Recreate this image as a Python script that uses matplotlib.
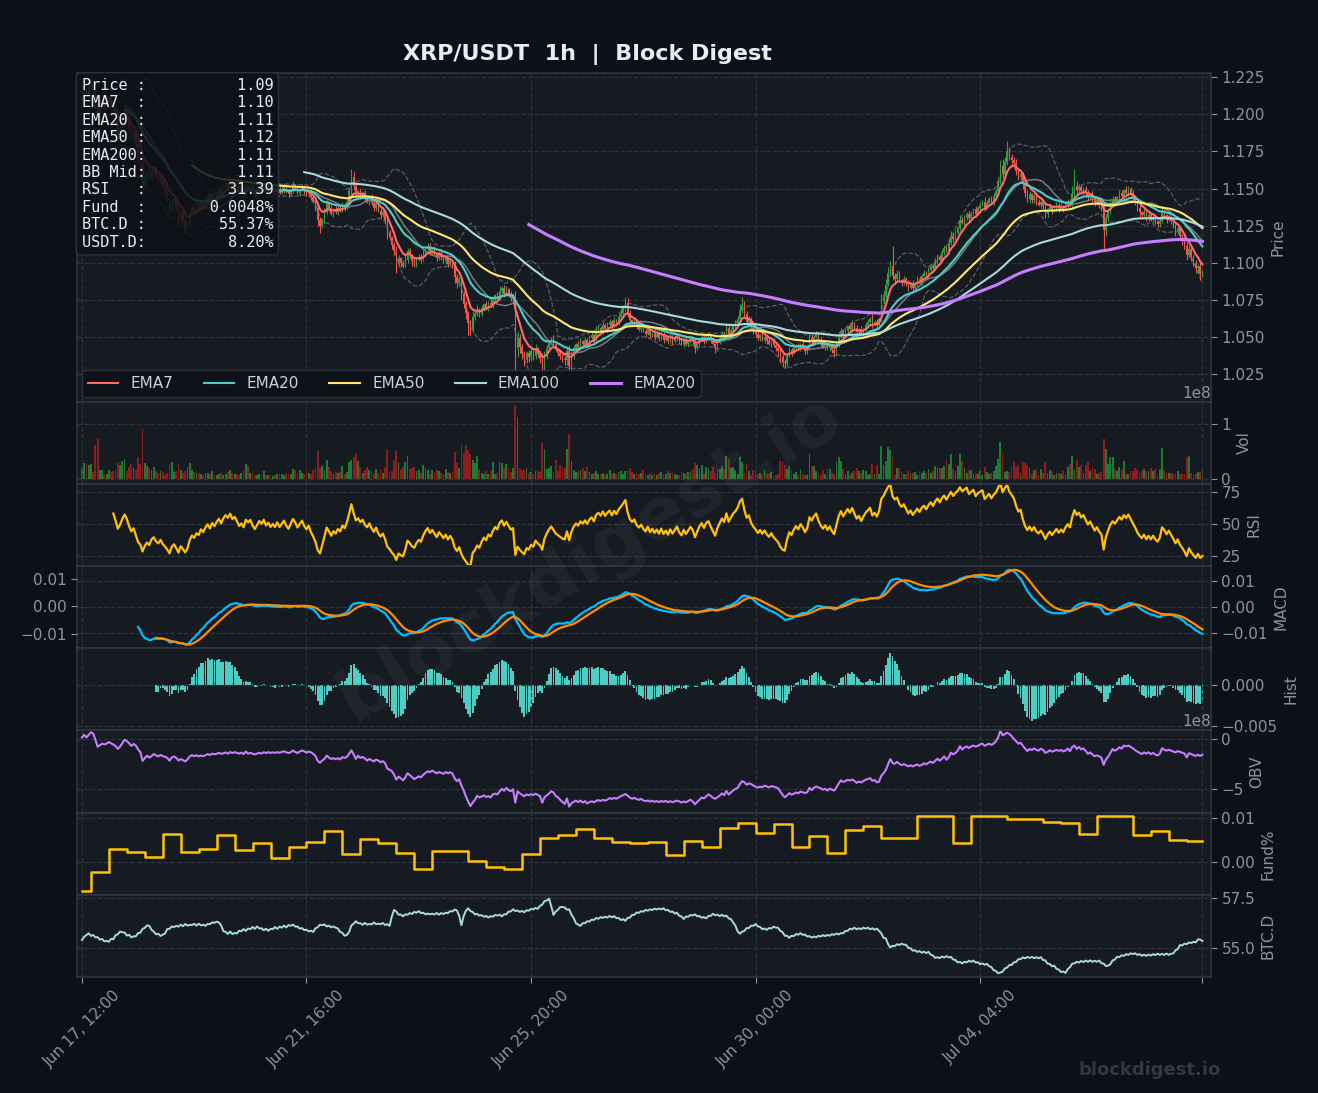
import numpy as np
import pandas as pd
import matplotlib
matplotlib.use("Agg")
import matplotlib.pyplot as plt
from matplotlib.gridspec import GridSpec

# ---------------- data (XRP/USDT, 1h) ----------------
start_time = "2025-06-17 12:00"
first_open = 1.210

close = [
    1.212, 1.216, 1.213, 1.218, 1.220, 1.216, 1.207, 1.199, 1.204, 1.208,
    1.205, 1.209, 1.212, 1.206, 1.201, 1.195, 1.187, 1.191, 1.197, 1.202,
    1.198, 1.191, 1.185, 1.188, 1.180, 1.170, 1.166, 1.153, 1.158, 1.161,
    1.157, 1.162, 1.164, 1.158, 1.155, 1.158, 1.152, 1.148, 1.143, 1.136,
    1.141, 1.143, 1.137, 1.129, 1.134, 1.129, 1.123, 1.126, 1.133, 1.137,
    1.134, 1.138, 1.136, 1.141, 1.138, 1.142, 1.145, 1.141, 1.146, 1.143,
    1.147, 1.150, 1.146, 1.151, 1.154, 1.152, 1.156, 1.152, 1.154, 1.151,
    1.147, 1.149, 1.146, 1.152, 1.150, 1.152, 1.148, 1.145, 1.148, 1.151,
    1.149, 1.152, 1.148, 1.150, 1.147, 1.149, 1.147, 1.150, 1.147, 1.149,
    1.151, 1.148, 1.146, 1.149, 1.152, 1.150, 1.147, 1.149, 1.151, 1.148,
    1.146, 1.148, 1.144, 1.141, 1.137, 1.129, 1.125, 1.129, 1.134, 1.140,
    1.137, 1.133, 1.136, 1.134, 1.137, 1.135, 1.139, 1.137, 1.141, 1.148,
    1.158, 1.152, 1.146, 1.148, 1.145, 1.147, 1.143, 1.141, 1.144, 1.140,
    1.137, 1.140, 1.135, 1.132, 1.134, 1.129, 1.120, 1.117, 1.112, 1.108,
    1.099, 1.103, 1.100, 1.098, 1.102, 1.108, 1.105, 1.101, 1.099, 1.102,
    1.104, 1.102, 1.106, 1.109, 1.111, 1.107, 1.109, 1.106, 1.103, 1.106,
    1.104, 1.101, 1.103, 1.099, 1.101, 1.098, 1.090, 1.086, 1.088, 1.079,
    1.072, 1.066, 1.059, 1.055, 1.063, 1.065, 1.068, 1.065, 1.069, 1.072,
    1.069, 1.073, 1.071, 1.075, 1.078, 1.076, 1.081, 1.083, 1.079, 1.082,
    1.079, 1.076, 1.077, 1.042, 1.049, 1.043, 1.038, 1.034, 1.039, 1.036,
    1.040, 1.037, 1.042, 1.038, 1.035, 1.028, 1.037, 1.042, 1.046, 1.049,
    1.045, 1.041, 1.039, 1.037, 1.035, 1.034, 1.040, 1.030, 1.037, 1.042,
    1.045, 1.043, 1.047, 1.045, 1.048, 1.045, 1.049, 1.051, 1.048, 1.054,
    1.056, 1.054, 1.058, 1.055, 1.058, 1.060, 1.057, 1.061, 1.059, 1.063,
    1.066, 1.069, 1.073, 1.066, 1.061, 1.059, 1.061, 1.057, 1.055, 1.057,
    1.054, 1.052, 1.055, 1.051, 1.053, 1.050, 1.052, 1.049, 1.052, 1.048,
    1.050, 1.047, 1.050, 1.047, 1.049, 1.051, 1.047, 1.045, 1.048, 1.045,
    1.047, 1.049, 1.047, 1.042, 1.045, 1.048, 1.050, 1.047, 1.050, 1.051,
    1.048, 1.045, 1.042, 1.046, 1.049, 1.052, 1.050, 1.056, 1.051, 1.054,
    1.057, 1.059, 1.062, 1.068, 1.071, 1.065, 1.060, 1.062, 1.057, 1.054,
    1.052, 1.049, 1.051, 1.048, 1.050, 1.047, 1.045, 1.047, 1.044, 1.042,
    1.040, 1.036, 1.033, 1.032, 1.037, 1.041, 1.039, 1.042, 1.044, 1.042,
    1.045, 1.043, 1.040, 1.042, 1.049, 1.047, 1.050, 1.052, 1.048, 1.045,
    1.043, 1.045, 1.042, 1.044, 1.041, 1.039, 1.044, 1.050, 1.054, 1.051,
    1.054, 1.057, 1.055, 1.059, 1.056, 1.053, 1.055, 1.052, 1.055, 1.058,
    1.060, 1.062, 1.058, 1.060, 1.058, 1.062, 1.074, 1.078, 1.085, 1.093,
    1.098, 1.091, 1.089, 1.092, 1.088, 1.086, 1.089, 1.086, 1.083, 1.086,
    1.083, 1.086, 1.089, 1.087, 1.091, 1.093, 1.091, 1.095, 1.098, 1.096,
    1.101, 1.104, 1.102, 1.107, 1.110, 1.108, 1.113, 1.118, 1.116, 1.120,
    1.123, 1.129, 1.127, 1.130, 1.133, 1.130, 1.133, 1.136, 1.133, 1.137,
    1.139, 1.141, 1.137, 1.140, 1.143, 1.141, 1.145, 1.148, 1.155, 1.165,
    1.160, 1.168, 1.175, 1.171, 1.169, 1.167, 1.162, 1.158, 1.160, 1.153,
    1.147, 1.143, 1.146, 1.142, 1.145, 1.141, 1.139, 1.141, 1.138, 1.133,
    1.136, 1.138, 1.135, 1.137, 1.139, 1.136, 1.138, 1.136, 1.139, 1.141,
    1.139, 1.146, 1.152, 1.149, 1.151, 1.148, 1.150, 1.147, 1.144, 1.146,
    1.143, 1.140, 1.142, 1.139, 1.137, 1.122, 1.130, 1.135, 1.140, 1.143,
    1.141, 1.144, 1.147, 1.145, 1.149, 1.147, 1.150, 1.147, 1.144, 1.141,
    1.137, 1.134, 1.132, 1.134, 1.130, 1.132, 1.129, 1.131, 1.128, 1.126,
    1.128, 1.134, 1.132, 1.129, 1.131, 1.128, 1.125, 1.121, 1.123, 1.118,
    1.115, 1.111, 1.105, 1.109, 1.104, 1.100, 1.096, 1.098, 1.092, 1.093,
]

# wick lengths above / below the candle body, in 0.001 USDT
upper_wick = [
    3, 2, 2, 1, 3, 2, 1, 2, 2, 1, 2, 3, 1, 2, 1, 2, 3, 1, 2, 2,
    1, 2, 1, 2, 2, 3, 1, 4, 2, 1, 2, 3, 1, 1, 2, 2, 1, 2, 3, 1,
    2, 1, 2, 2, 1, 3, 1, 2, 2, 3, 1, 2, 2, 1, 2, 1, 3, 2, 1, 2,
    2, 1, 2, 3, 1, 2, 2, 1, 2, 1, 2, 2, 1, 3, 1, 2, 1, 2, 1, 2,
    1, 2, 2, 1, 1, 2, 1, 2, 1, 2, 2, 1, 2, 1, 3, 1, 2, 1, 2, 1,
    2, 1, 2, 1, 2, 4, 2, 1, 3, 2, 1, 2, 1, 2, 1, 2, 2, 1, 2, 3,
    5, 3, 2, 1, 2, 1, 2, 2, 1, 2, 1, 3, 1, 2, 2, 1, 3, 2, 1, 2,
    3, 2, 1, 2, 3, 2, 2, 1, 2, 1, 2, 2, 3, 1, 2, 2, 1, 2, 1, 2,
    2, 1, 2, 1, 2, 1, 3, 2, 2, 3, 2, 2, 1, 2, 4, 2, 3, 1, 2, 1,
    2, 1, 2, 2, 1, 2, 3, 1, 2, 2, 1, 2, 2, 4, 5, 3, 2, 2, 1, 2,
    2, 1, 3, 1, 2, 4, 3, 2, 2, 1, 2, 1, 1, 2, 1, 2, 3, 4, 3, 2,
    1, 2, 2, 1, 2, 1, 2, 2, 1, 3, 2, 1, 2, 1, 2, 2, 1, 2, 1, 2,
    3, 2, 4, 3, 2, 1, 2, 1, 2, 1, 2, 1, 1, 2, 1, 2, 1, 2, 1, 1,
    2, 1, 2, 1, 2, 1, 1, 2, 1, 2, 1, 2, 1, 2, 1, 2, 1, 2, 2, 1,
    1, 2, 1, 2, 1, 2, 1, 3, 3, 2, 1, 2, 2, 4, 6, 3, 2, 2, 1, 2,
    1, 2, 1, 2, 1, 1, 2, 1, 2, 1, 2, 3, 2, 2, 1, 2, 1, 2, 1, 2,
    1, 2, 1, 2, 4, 2, 1, 2, 1, 2, 1, 2, 1, 1, 2, 1, 3, 3, 2, 1,
    2, 1, 2, 2, 1, 2, 1, 2, 1, 2, 2, 1, 3, 1, 2, 1, 5, 3, 4, 4,
    3, 13, 2, 3, 2, 1, 2, 1, 2, 1, 2, 1, 2, 2, 1, 2, 1, 2, 2, 1,
    2, 2, 1, 2, 2, 1, 3, 3, 2, 2, 2, 3, 2, 2, 1, 2, 2, 1, 2, 1,
    2, 1, 3, 2, 1, 2, 2, 2, 3, 4, 5, 3, 7, 3, 2, 2, 3, 2, 2, 1,
    3, 2, 2, 1, 2, 1, 2, 1, 2, 2, 1, 2, 1, 1, 2, 1, 2, 1, 2, 2,
    2, 6, 11, 3, 2, 2, 1, 2, 2, 1, 2, 1, 1, 2, 1, 3, 3, 2, 3, 2,
    2, 1, 2, 2, 1, 3, 2, 1, 2, 1, 2, 2, 1, 2, 1, 2, 2, 1, 2, 1,
    2, 4, 2, 1, 2, 1, 2, 1, 1, 2, 1, 2, 3, 3, 2, 1, 2, 1, 2, 2,
]
lower_wick = [
    2, 1, 2, 2, 1, 2, 3, 4, 2, 1, 2, 1, 2, 1, 2, 3, 3, 2, 1, 2,
    2, 2, 3, 2, 2, 3, 2, 5, 2, 2, 1, 2, 2, 1, 2, 2, 1, 3, 2, 3,
    1, 2, 2, 3, 2, 2, 3, 1, 2, 1, 2, 1, 2, 1, 2, 1, 1, 2, 1, 2,
    1, 2, 1, 1, 2, 1, 2, 1, 1, 2, 1, 2, 1, 2, 1, 2, 1, 1, 2, 1,
    2, 1, 1, 2, 1, 2, 1, 2, 1, 1, 2, 1, 2, 1, 2, 1, 1, 2, 1, 2,
    1, 2, 2, 1, 2, 4, 5, 2, 2, 1, 2, 1, 2, 1, 2, 1, 1, 2, 1, 2,
    2, 3, 2, 1, 2, 1, 2, 1, 2, 1, 2, 2, 1, 2, 1, 3, 4, 2, 3, 3,
    6, 2, 3, 2, 1, 2, 2, 3, 2, 2, 1, 2, 1, 2, 1, 2, 2, 1, 2, 1,
    2, 1, 2, 2, 1, 2, 4, 3, 2, 4, 3, 4, 8, 4, 2, 2, 1, 2, 1, 2,
    1, 2, 1, 2, 1, 2, 1, 2, 2, 1, 2, 2, 2, 25, 6, 4, 3, 4, 2, 3,
    2, 3, 2, 2, 3, 6, 3, 2, 1, 2, 2, 1, 2, 2, 2, 3, 3, 7, 3, 2,
    2, 1, 2, 1, 2, 1, 2, 1, 2, 1, 2, 1, 2, 1, 2, 1, 2, 1, 2, 1,
    1, 2, 2, 3, 2, 2, 1, 2, 1, 2, 1, 2, 1, 2, 1, 2, 1, 2, 1, 2,
    1, 2, 1, 2, 1, 2, 1, 1, 2, 1, 2, 1, 2, 3, 1, 2, 1, 2, 1, 2,
    2, 1, 3, 2, 1, 2, 1, 2, 3, 1, 2, 1, 2, 1, 2, 2, 2, 1, 2, 2,
    2, 1, 2, 1, 2, 2, 1, 2, 1, 2, 3, 4, 3, 3, 2, 1, 2, 1, 2, 1,
    2, 1, 2, 2, 1, 2, 1, 1, 2, 2, 1, 2, 1, 2, 2, 3, 2, 1, 1, 2,
    1, 2, 1, 2, 1, 2, 2, 1, 2, 1, 2, 1, 2, 1, 2, 1, 2, 2, 2, 1,
    2, 3, 2, 2, 1, 2, 1, 2, 2, 1, 2, 1, 2, 1, 2, 1, 2, 1, 1, 2,
    1, 2, 1, 1, 2, 1, 2, 1, 2, 1, 1, 2, 1, 2, 1, 2, 1, 1, 2, 1,
    2, 1, 2, 1, 2, 1, 2, 1, 2, 2, 3, 2, 2, 2, 3, 3, 3, 2, 2, 3,
    3, 2, 3, 2, 2, 2, 1, 2, 2, 3, 2, 1, 2, 1, 2, 2, 1, 2, 1, 2,
    1, 2, 2, 3, 2, 2, 3, 2, 2, 1, 2, 2, 1, 2, 2, 13, 4, 2, 2, 1,
    2, 1, 2, 1, 2, 1, 2, 2, 3, 2, 2, 3, 2, 1, 2, 2, 1, 2, 2, 2,
    2, 1, 2, 2, 1, 2, 2, 3, 2, 2, 3, 2, 3, 2, 3, 2, 3, 3, 4, 2,
]

# hourly volume, millions of XRP
volume_m = [
    19, 28, 27, 25, 27, 12, 62, 73, 16, 16, 8, 9, 15, 12, 13, 16, 28, 25, 32, 36,
    14, 22, 27, 20, 16, 39, 26, 91, 29, 24, 19, 15, 21, 13, 10, 14, 12, 7, 10, 29,
    31, 12, 14, 28, 15, 10, 14, 21, 28, 16, 12, 10, 11, 8, 7, 10, 11, 9, 14, 7,
    6, 9, 10, 6, 8, 12, 16, 10, 9, 8, 7, 10, 14, 26, 23, 10, 10, 6, 7, 8,
    7, 13, 7, 7, 6, 5, 6, 9, 8, 9, 7, 10, 8, 9, 17, 16, 10, 15, 11, 9,
    13, 11, 8, 15, 21, 50, 19, 23, 15, 35, 21, 14, 9, 12, 11, 12, 23, 9, 12, 30,
    35, 40, 46, 32, 22, 10, 15, 21, 15, 13, 11, 18, 10, 17, 11, 20, 55, 12, 14, 35,
    50, 30, 17, 21, 30, 42, 18, 20, 22, 14, 15, 10, 25, 20, 16, 9, 15, 12, 15, 14,
    10, 9, 18, 12, 11, 14, 49, 28, 20, 64, 48, 62, 52, 46, 35, 28, 42, 17, 10, 9,
    14, 8, 13, 30, 9, 10, 30, 28, 19, 27, 20, 12, 20, 136, 114, 20, 15, 15, 20, 10,
    12, 9, 14, 13, 12, 66, 55, 18, 19, 23, 12, 35, 14, 25, 22, 19, 54, 82, 33, 15,
    12, 14, 15, 20, 14, 22, 12, 9, 10, 14, 8, 9, 11, 7, 9, 16, 8, 10, 8, 12,
    14, 9, 13, 16, 20, 12, 8, 11, 9, 11, 16, 8, 7, 10, 6, 9, 7, 11, 12, 8,
    9, 13, 10, 11, 9, 7, 6, 13, 11, 8, 12, 14, 18, 29, 25, 19, 25, 9, 21, 20,
    14, 21, 10, 15, 17, 23, 18, 42, 36, 20, 22, 15, 9, 39, 30, 10, 26, 14, 7, 15,
    13, 8, 10, 6, 16, 8, 9, 12, 5, 7, 9, 33, 33, 25, 18, 24, 16, 9, 12, 7,
    17, 8, 6, 7, 45, 23, 23, 14, 11, 7, 15, 9, 17, 18, 10, 9, 31, 40, 33, 17,
    9, 13, 7, 10, 14, 20, 14, 11, 16, 13, 7, 9, 27, 8, 25, 8, 61, 25, 32, 58,
    52, 40, 7, 19, 19, 14, 9, 8, 13, 10, 11, 12, 7, 13, 11, 14, 10, 17, 10, 13,
    23, 20, 20, 20, 23, 34, 26, 46, 17, 13, 23, 46, 33, 20, 10, 15, 16, 9, 11, 9,
    14, 7, 22, 12, 9, 11, 13, 24, 37, 68, 46, 12, 14, 12, 21, 30, 22, 25, 10, 30,
    29, 25, 19, 9, 16, 15, 7, 18, 10, 31, 10, 16, 13, 7, 10, 10, 9, 14, 7, 22,
    27, 42, 15, 35, 21, 25, 10, 25, 30, 14, 20, 18, 9, 10, 12, 74, 55, 26, 40, 39,
    17, 13, 22, 15, 32, 9, 9, 14, 13, 19, 15, 12, 14, 18, 13, 14, 19, 13, 17, 9,
    17, 56, 15, 10, 10, 10, 9, 8, 13, 8, 8, 9, 39, 42, 10, 9, 8, 12, 12, 13,
]

# funding rate (%), one value per 8h funding window (00/08/16 UTC)
funding = [
    -0.0067, -0.0023, 0.0030, 0.0022, 0.0011, 0.0064, 0.0022, 0.0030, 0.0062, 0.0028,
    0.0043, 0.0009, 0.0033, 0.0045, 0.0070, 0.0017, 0.0052, 0.0044, 0.0020, -0.0017,
    0.0024, 0.0024, 0.0003, -0.0012, -0.0017, 0.0019, 0.0055, 0.0062, 0.0076, 0.0055,
    0.0045, 0.0042, 0.0045, 0.0015, 0.0047, 0.0033, 0.0077, 0.0089, 0.0065, 0.0086,
    0.0035, 0.0058, 0.0021, 0.0073, 0.0083, 0.0055, 0.0055, 0.0104, 0.0104, 0.0042,
    0.0104, 0.0104, 0.0098, 0.0098, 0.0091, 0.0088, 0.0064, 0.0104, 0.0104, 0.0062,
    0.0071, 0.0051, 0.0048,
]

# BTC dominance (%), hourly
btc_dom = [
    55.42, 55.58, 55.66, 55.75, 55.62, 55.67, 55.55, 55.56, 55.44, 55.47,
    55.35, 55.38, 55.33, 55.48, 55.46, 55.66, 55.70, 55.84, 55.80, 55.79,
    55.64, 55.68, 55.55, 55.60, 55.60, 55.76, 55.78, 55.97, 56.02, 56.14,
    56.12, 55.92, 55.84, 55.70, 55.73, 55.62, 55.68, 55.74, 55.96, 55.97,
    56.09, 56.06, 56.12, 56.08, 56.18, 56.10, 56.21, 56.13, 56.17, 56.16,
    56.22, 56.13, 56.23, 56.14, 56.18, 56.12, 56.22, 56.20, 56.29, 56.27,
    56.33, 56.29, 56.14, 55.86, 55.82, 55.72, 55.84, 55.71, 55.77, 55.74,
    55.88, 55.85, 55.96, 55.87, 55.99, 55.95, 56.07, 55.97, 56.09, 55.99,
    56.00, 55.90, 55.98, 55.87, 55.97, 55.96, 56.06, 55.97, 56.08, 56.03,
    56.13, 56.04, 56.16, 56.12, 56.18, 56.08, 56.09, 55.98, 56.01, 55.91,
    55.93, 55.85, 55.88, 55.82, 56.00, 56.05, 56.18, 56.15, 56.19, 56.09,
    56.13, 56.05, 56.09, 56.03, 55.99, 55.82, 55.77, 55.63, 55.67, 55.82,
    56.14, 56.22, 56.35, 56.25, 56.25, 56.17, 56.27, 56.18, 56.21, 56.19,
    56.29, 56.20, 56.23, 56.20, 56.26, 56.16, 56.20, 56.12, 56.58, 56.91,
    56.83, 56.67, 56.68, 56.59, 56.69, 56.67, 56.75, 56.71, 56.81, 56.77,
    56.85, 56.75, 56.77, 56.69, 56.73, 56.69, 56.72, 56.68, 56.76, 56.67,
    56.75, 56.71, 56.77, 56.75, 56.85, 56.83, 56.93, 56.88, 56.62, 56.15,
    56.61, 56.87, 56.99, 56.85, 56.81, 56.69, 56.71, 56.63, 56.65, 56.57,
    56.61, 56.53, 56.60, 56.57, 56.66, 56.63, 56.67, 56.59, 56.69, 56.69,
    56.83, 56.83, 56.94, 56.85, 56.88, 56.81, 56.86, 56.79, 56.89, 56.87,
    56.96, 56.93, 57.01, 56.96, 57.11, 57.17, 57.35, 57.37, 57.47, 57.10,
    56.66, 56.83, 56.92, 57.05, 57.05, 57.03, 56.92, 56.94, 56.67, 56.51,
    56.25, 56.18, 56.12, 56.25, 56.25, 56.35, 56.33, 56.43, 56.41, 56.51,
    56.47, 56.55, 56.52, 56.57, 56.53, 56.61, 56.54, 56.60, 56.50, 56.51,
    56.41, 56.45, 56.37, 56.51, 56.53, 56.66, 56.67, 56.78, 56.76, 56.85,
    56.82, 56.91, 56.87, 56.94, 56.90, 56.97, 56.93, 56.98, 56.94, 56.99,
    56.89, 56.91, 56.81, 56.83, 56.73, 56.77, 56.62, 56.59, 56.46, 56.58,
    56.57, 56.66, 56.63, 56.69, 56.59, 56.61, 56.52, 56.55, 56.49, 56.61,
    56.61, 56.72, 56.64, 56.68, 56.60, 56.67, 56.59, 56.63, 56.49, 56.45,
    56.29, 56.13, 55.85, 55.73, 55.83, 55.87, 56.01, 56.01, 56.13, 56.12,
    56.21, 56.09, 56.07, 55.95, 55.99, 55.92, 56.01, 55.99, 56.08, 56.03,
    56.03, 55.87, 55.81, 55.63, 55.63, 55.53, 55.63, 55.61, 55.71, 55.68,
    55.76, 55.67, 55.69, 55.59, 55.61, 55.54, 55.59, 55.55, 55.63, 55.59,
    55.66, 55.61, 55.67, 55.63, 55.71, 55.67, 55.74, 55.69, 55.76, 55.75,
    55.87, 55.87, 55.98, 55.95, 56.03, 55.95, 56.00, 55.96, 56.03, 55.98,
    56.03, 55.95, 56.00, 55.93, 55.98, 55.87, 55.75, 55.52, 55.50, 55.22,
    55.05, 55.13, 55.12, 55.21, 55.17, 55.24, 55.19, 55.18, 55.03, 55.01,
    54.89, 54.91, 54.83, 54.87, 54.79, 54.84, 54.77, 54.83, 54.69, 54.65,
    54.53, 54.57, 54.52, 54.60, 54.55, 54.62, 54.56, 54.58, 54.45, 54.43,
    54.31, 54.33, 54.26, 54.34, 54.31, 54.39, 54.34, 54.40, 54.30, 54.32,
    54.22, 54.26, 54.19, 54.24, 54.12, 54.08, 53.92, 53.89, 53.77, 53.81,
    53.85, 54.01, 54.05, 54.18, 54.18, 54.31, 54.33, 54.47, 54.47, 54.56,
    54.51, 54.58, 54.53, 54.58, 54.52, 54.57, 54.51, 54.57, 54.43, 54.41,
    54.25, 54.23, 54.12, 54.15, 53.99, 53.96, 53.83, 53.86, 53.79, 53.98,
    54.07, 54.25, 54.26, 54.34, 54.30, 54.38, 54.33, 54.40, 54.34, 54.41,
    54.34, 54.39, 54.34, 54.40, 54.27, 54.25, 54.13, 54.15, 54.22, 54.41,
    54.45, 54.59, 54.57, 54.66, 54.63, 54.72, 54.68, 54.76, 54.72, 54.76,
    54.68, 54.72, 54.64, 54.69, 54.63, 54.70, 54.65, 54.72, 54.67, 54.74,
    54.68, 54.73, 54.68, 54.75, 54.68, 54.74, 54.75, 54.91, 54.97, 55.17,
    55.15, 55.24, 55.21, 55.30, 55.27, 55.33, 55.30, 55.45, 55.44, 55.37,
]

info_labels = ["Price", "EMA7", "EMA20", "EMA50", "EMA200", "BB Mid", "RSI", "Fund", "BTC.D", "USDT.D"]
info_values = ["1.09", "1.10", "1.11", "1.12", "1.11", "1.11", "31.39", "0.0048%", "55.37%", "8.20%"]

n = len(close)
assert len(upper_wick) == n and len(lower_wick) == n and len(volume_m) == n and len(btc_dom) == n

# ---------------- indicators ----------------
c = pd.Series(close)
o = pd.Series(np.r_[first_open, close[:-1]])
hi = np.maximum(o, c) + np.array(upper_wick) * 0.001
lo = np.minimum(o, c) - np.array(lower_wick) * 0.001
vol = np.array(volume_m) * 1e6
up = (c >= o).values
x = np.arange(n)
times = pd.date_range(start_time, periods=n, freq="h")


def ema(s, span):
    return s.ewm(span=span, adjust=False, min_periods=span).mean()


emas = {k: ema(c, k) for k in (7, 20, 50, 100, 200)}
bb_mid = c.rolling(20).mean()
bb_std = c.rolling(20).std()
bb_up, bb_lo = bb_mid + 2 * bb_std, bb_mid - 2 * bb_std

# Wilder RSI(14)
delta = c.diff()
gain = delta.clip(lower=0).ewm(alpha=1 / 14, adjust=False, min_periods=14).mean()
loss = (-delta.clip(upper=0)).ewm(alpha=1 / 14, adjust=False, min_periods=14).mean()
rsi = 100 - 100 / (1 + gain / loss)

macd = ema(c, 12) - ema(c, 26)
signal = macd.ewm(span=9, adjust=False, min_periods=9).mean()
hist = macd - signal

obv = np.cumsum(np.where(up, vol, -vol))

period = times.floor("8h")
fund_hourly = pd.Series(funding, index=period.unique()).reindex(period).values

# ---------------- style ----------------
BG = "#0d1117"
PANEL = "#161b22"
EDGE = "#30363d"
TXT = "#8b949e"
UP, DOWN = "#2ea043", "#f85149"
VOL_UP, VOL_DOWN = "#1f7a33", "#8e1c1c"
ema_colors = {7: "#ff6b6b", 20: "#4ecdc4", 50: "#ffe66d", 100: "#a8dadc", 200: "#c77dff"}

plt.rcParams["font.family"] = ["DejaVu Sans"]

fig = plt.figure(figsize=(13.18, 10.93), dpi=100, facecolor=BG)
gs = GridSpec(8, 1, figure=fig, height_ratios=[4, 1, 1, 1, 1, 1, 1, 1], hspace=0,
              left=0.0584, right=0.9188, top=0.9332, bottom=0.1061)
ax_p = fig.add_subplot(gs[0])
axs = [ax_p] + [fig.add_subplot(gs[i], sharex=ax_p) for i in range(1, 8)]
ax_p, ax_v, ax_r, ax_m, ax_h, ax_o, ax_f, ax_b = axs

for ax in axs:
    ax.set_facecolor(PANEL)
    ax.grid(True, linestyle="--", color=EDGE, linewidth=0.9, alpha=0.9)
    ax.yaxis.tick_right()
    ax.yaxis.set_label_position("right")
    ax.tick_params(axis="y", colors=TXT, labelsize=11, length=4)
    ax.tick_params(axis="x", colors=TXT, labelsize=11, length=0, labelbottom=False)
    ax.yaxis.get_offset_text().set_color(TXT)
    ax.yaxis.get_offset_text().set_fontsize(11)
    for sp in ax.spines.values():
        sp.set_color(EDGE)
        sp.set_linewidth(1.2)

# price panel
ax_p.plot(x, bb_up, color=TXT, lw=0.9, ls="--", alpha=0.55)
ax_p.plot(x, bb_lo, color=TXT, lw=0.9, ls="--", alpha=0.55)
ax_p.plot(x, bb_mid, color=TXT, lw=1.1, alpha=0.8)
ax_p.vlines(x, lo, hi, colors=np.where(up, UP, DOWN), linewidth=0.8, zorder=3)
body = np.maximum(np.abs(c - o).values, 0.0004)
ax_p.bar(x, body, bottom=np.minimum(o, c), width=0.65, color=np.where(up, UP, DOWN), zorder=3)
for k in (7, 20, 50, 100, 200):
    ax_p.plot(x, emas[k], color=ema_colors[k], lw=2.2 if k == 200 else 1.5,
              label=f"EMA{k}", zorder=4)
ax_p.set_ylim(1.006, 1.228)
ax_p.set_yticks(np.arange(1.025, 1.2251, 0.025))
ax_p.set_ylabel("Price", color=TXT, fontsize=11)
leg = ax_p.legend(loc="lower left", ncol=5, fontsize=11, facecolor=BG, edgecolor=EDGE,
                  framealpha=0.9, labelcolor="#c9d1d9", borderaxespad=0.3)
leg.set_zorder(6)

info = "\n".join(f"{lab:<6}:{val:>14}" for lab, val in zip(info_labels, info_values))
ax_p.text(0.004, 0.985, info, transform=ax_p.transAxes, va="top", ha="left",
          family="DejaVu Sans Mono", fontsize=11, color="#e6edf3", zorder=10,
          bbox=dict(boxstyle="round,pad=0.35", facecolor=BG, edgecolor=EDGE, alpha=0.85))

# volume
ax_v.bar(x, vol, width=0.8, color=np.where(up, VOL_UP, VOL_DOWN))
ax_v.set_ylim(-0.1e8, 1.42e8)
ax_v.set_yticks([0, 1e8])
ax_v.set_ylabel("Vol", color=TXT, fontsize=11)

# RSI
ax_r.plot(x, rsi, color="#ffc107", lw=1.6)
ax_r.set_ylim(17.5, 81.5)
ax_r.set_yticks([25, 50, 75])
ax_r.set_ylabel("RSI", color=TXT, fontsize=11)

# MACD (signal line on a left-hand twin scale)
ax_m.plot(x, macd, color="#00bfff", lw=1.6)
ax_s = ax_m.twinx()
ax_s.plot(x, signal, color="#ff8c00", lw=1.6)
ax_m.yaxis.tick_right()
ax_m.yaxis.set_label_position("right")
ax_s.yaxis.tick_left()
ax_m.set_yticks([-0.01, 0.0, 0.01])
ax_s.set_yticks([-0.01, 0.0, 0.01])
ax_m.set_ylabel("MACD", color=TXT, fontsize=11)
ax_s.tick_params(axis="y", colors=TXT, labelsize=11, length=4)
for sp in ax_s.spines.values():
    sp.set_visible(False)

# histogram
ax_h.bar(x, hist, width=0.8, color="#4ecdc4")
ax_h.set_ylim(-0.0055, 0.0045)
ax_h.set_yticks([-0.005, 0.0])
ax_h.set_ylabel("Hist", color=TXT, fontsize=11)

# OBV
ax_o.plot(x, obv, color="#c77dff", lw=1.5)
ax_o.set_ylim(-7.4e8, 0.9e8)
ax_o.set_yticks([-5e8, 0])
ax_o.set_ylabel("OBV", color=TXT, fontsize=11)

# funding
ax_f.step(x, fund_hourly, where="post", color="#ffc107", lw=1.8)
ax_f.set_yticks([0.0, 0.01])
ax_f.set_ylabel("Fund%", color=TXT, fontsize=11)

# BTC dominance
ax_b.plot(x, btc_dom, color="#a8dadc", lw=1.4)
ax_b.set_yticks([55.0, 57.5])
ax_b.set_ylabel("BTC.D", color=TXT, fontsize=11)

# x axis
tick_idx = [0, 100, 200, 300, 400, n - 1]
tick_lab = [times[i].strftime("%b %d, %H:%M") for i in tick_idx[:-1]] + [""]
ax_b.set_xticks(tick_idx)
ax_b.set_xticklabels(tick_lab, rotation=45, ha="center")
ax_b.tick_params(axis="x", length=4, labelbottom=True, colors=TXT)
ax_p.set_xlim(-2.2, 502.8)

fig.text(0.446, 0.950, "XRP/USDT  1h  |  Block Digest", ha="center", va="center",
         fontsize=16, fontweight="bold", color="#e6edf3")
fig.text(0.448, 0.49, "blockdigest.io", ha="center", va="center", rotation=31,
         fontsize=52, fontweight="bold", color="white", alpha=0.045)
fig.text(0.8725, 0.021, "blockdigest.io", ha="center", va="center",
         fontsize=13, fontweight="bold", color=TXT, alpha=0.3)

fig.savefig("out.png", dpi=100, facecolor=BG)
